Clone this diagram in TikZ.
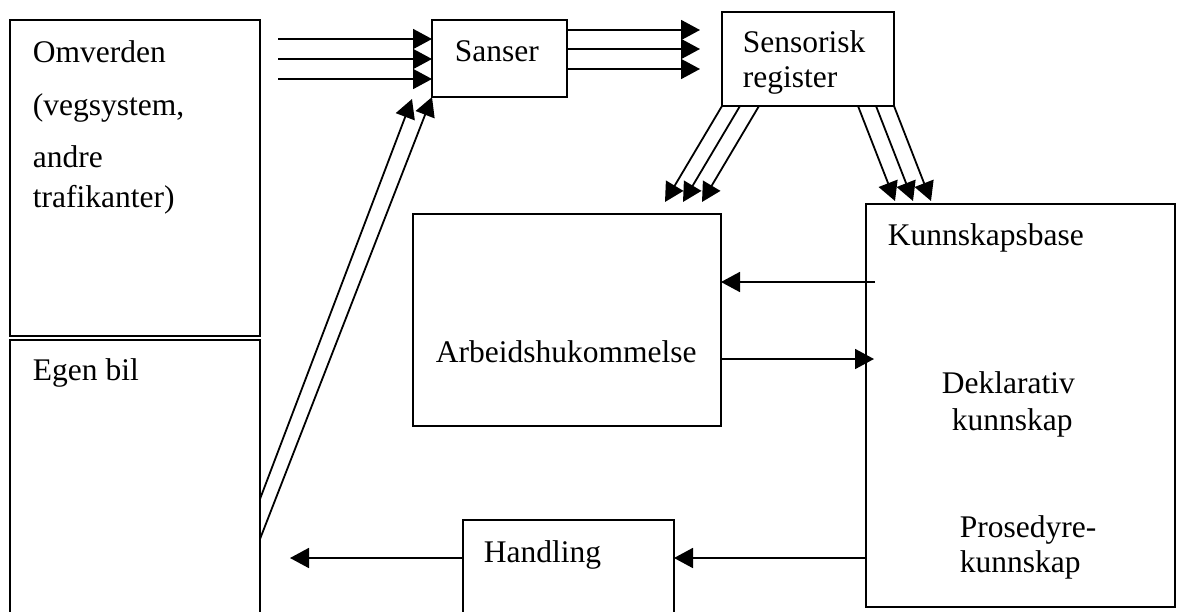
\documentclass[tikz,border=0pt]{standalone}
\usepackage{fontspec}
\setmainfont{Liberation Serif}
\usetikzlibrary{calc, arrows.meta}

\begin{document}
\begin{tikzpicture}[x=1pt, y=-1pt, line width=1.8pt,
  boks/.style={draw, inner sep=0pt, outer sep=0pt, anchor=north west},
  tekst/.style={anchor=base west, inner sep=0pt, font=\fontsize{31.5}{38}\selectfont},
  pil/.style={-{Triangle[length=19pt, width=20pt]}}]
  \useasboundingbox (0,0) rectangle (1185,611);
  % boxes, corners read off in pixels (y downwards)
  \node[boks, minimum width=250pt, minimum height=316pt] (omverden) at (10,20) {};
  \node[boks, minimum width=250pt, minimum height=290pt] (egenbil) at (10,340) {};
  \node[boks, minimum width=135pt, minimum height=77pt] (sanser) at (432,20) {};
  \node[boks, minimum width=172pt, minimum height=94pt] (sensor) at (722,12) {};
  \node[boks, minimum width=308pt, minimum height=212pt] (arbeid) at (413,214) {};
  \node[boks, minimum width=309pt, minimum height=403pt] (kunnskap) at (866,204) {};
  \node[boks, minimum width=211pt, minimum height=110pt] (handling) at (463,520) {};
  % texts
  \node[tekst] (t-omv1) at (32,62) {Omverden};
  \node[tekst] (t-omv2) at (32,115) {(vegsystem,};
  \node[tekst] (t-omv3) at (32,167) {andre};
  \node[tekst] (t-omv4) at (32,207) {trafikanter)};
  \node[tekst] (t-egen) at (32,380) {Egen bil};
  \node[tekst] (t-sans) at (454,61) {Sanser};
  \node[tekst] (t-sens1) at (742,52) {Sensorisk};
  \node[tekst] (t-sens2) at (742,87) {register};
  \node[tekst] (t-kunn) at (887,245) {Kunnskapsbase};
  \node[tekst] (t-arb) at (435,362) {Arbeidshukommelse};
  \node[tekst] (t-dekl1) at (941,393) {Deklarativ};
  \node[tekst] (t-dekl2) at (951,430) {kunnskap};
  \node[tekst] (t-pros1) at (959,537) {Prosedyre-};
  \node[tekst] (t-pros2) at (959,572) {kunnskap};
  \node[tekst] (t-hand) at (483,562) {Handling};
  % into and out of Sanser
  \foreach \y in {39,59,79} {
    \coordinate (inn) at (278,\y);
    \draw[pil] (inn) -- (inn -| sanser.west);
  }
  \foreach \y in {30,49,69} {
    \coordinate (ut) at (700,\y);
    \draw[pil] (ut -| sanser.east) -- (ut);
  }
  % sensorisk register down to the two stores
  \foreach \dx in {0,18,37}
    \draw[pil] (sensor.south west) ++(\dx,0) -- ++(-57,96);
  \foreach \dx in {0,18,36}
    \draw[pil] (sensor.south east) ++(-\dx,0) -- ++(37,95);
  % egen bil back to Sanser
  \draw[pil] (egenbil.north east) ++(0,159) -- ($(sanser.south west)+(-20,2)$);
  \draw[pil] (egenbil.north east) ++(0,199) -- (sanser.south west);
  % between the stores
  \coordinate (k1) at (875,282);
  \draw[pil] (k1) -- (k1 -| arbeid.east);
  \coordinate (k2) at (874,359);
  \draw[pil] (k2 -| arbeid.east) -- (k2);
  % action row
  \coordinate (hrad) at (290,558);
  \draw[pil] (hrad -| kunnskap.west) -- (hrad -| handling.east);
  \draw[pil] (hrad -| handling.west) -- (hrad);
\end{tikzpicture}
\end{document}
